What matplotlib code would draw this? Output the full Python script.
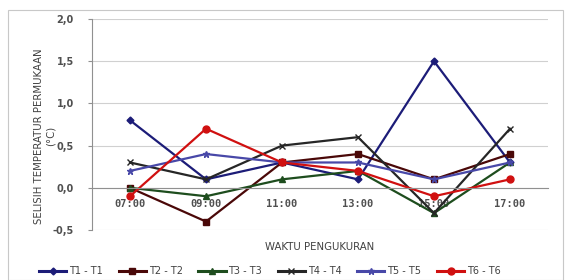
import matplotlib
matplotlib.use("Agg")
import matplotlib.pyplot as plt
from matplotlib.patches import Rectangle

categories = ["07:00", "09:00", "11:00", "13:00", "15:00", "17:00"]
t1 = [0.8, 0.1, 0.3, 0.1, 1.5, 0.3]
t2 = [0.0, -0.4, 0.3, 0.4, 0.1, 0.4]
t3 = [0.0, -0.1, 0.1, 0.2, -0.3, 0.3]
t4 = [0.3, 0.1, 0.5, 0.6, -0.3, 0.7]
t5 = [0.2, 0.4, 0.3, 0.3, 0.1, 0.3]
t6 = [-0.1, 0.7, 0.3, 0.2, -0.1, 0.1]
labels = ["T1 - T1", "T2 - T2", "T3 - T3", "T4 - T4", "T5 - T5", "T6 - T6"]
yticks = [-0.5, 0.0, 0.5, 1.0, 1.5, 2.0]
ytick_labels = ["-0,5", "0,0", "0,5", "1,0", "1,5", "2,0"]

fig = plt.figure(figsize=(5.68, 2.80), dpi=100)
ax = fig.add_axes([92/568, 1-230/280, (548-92)/568, (230-19)/280])
fig.patches.append(Rectangle((8/568, 0), 555/568, 1-10/280, transform=fig.transFigure,
                             fill=False, edgecolor="#c8c8c8", linewidth=0.8))

ax.spines["bottom"].set_position(("data", 0))
ax.spines["bottom"].set_color("#909090")
ax.spines["left"].set_color("#909090")
ax.spines["top"].set_visible(False)
ax.spines["right"].set_visible(False)

styles = [
    dict(color="#1c1c78", marker="D", ms=3.5),
    dict(color="#4a0808", marker="s", ms=5),
    dict(color="#1e4d1e", marker="^", ms=4.5),
    dict(color="#262626", marker="x", ms=5, mew=1),
    dict(color="#4848a8", marker="*", ms=5),
    dict(color="#d01010", marker="o", ms=5),
]
x = list(range(len(categories)))
for data, lab, st in zip([t1, t2, t3, t4, t5, t6], labels, styles):
    ax.plot(x, data, label=lab, linewidth=1.6, **st)

ax.set_xlim(-0.5, len(categories) - 0.5)
ax.set_ylim(-0.5, 2.0)
ax.set_yticks(yticks)
ax.set_yticklabels(ytick_labels, fontsize=7, color="#505050", fontweight="bold")
ax.set_xticks(x)
ax.set_xticklabels(categories, fontsize=7.5, color="#505050", fontweight="bold",
                   family="DejaVu Sans Mono")
ax.tick_params(axis="x", length=0, pad=8)
ax.tick_params(axis="y", length=3, color="#909090", pad=10)
ax.grid(axis="y", color="#d0d0d0", linewidth=0.8)
ax.set_axisbelow(True)

ax.set_ylabel("SELISIH TEMPERATUR PERMUKAAN\n(°C)", fontsize=7.3, color="#404040")
ax.yaxis.set_label_coords(-0.08, 0.445)
fig.text((92+548)/2/568, 1-247/280, "WAKTU PENGUKURAN", fontsize=7.3, color="#404040",
         ha="center", va="center")
leg = fig.legend(loc="center", bbox_to_anchor=(270/568, 1-271/280), ncol=6, frameon=False,
                 fontsize=7, handlelength=2.8, columnspacing=1.6, handletextpad=0.3,
                 labelcolor="#404040")
for h in leg.legend_handles:
    h.set_linewidth(2.2)

fig.savefig("out.png", dpi=100)
